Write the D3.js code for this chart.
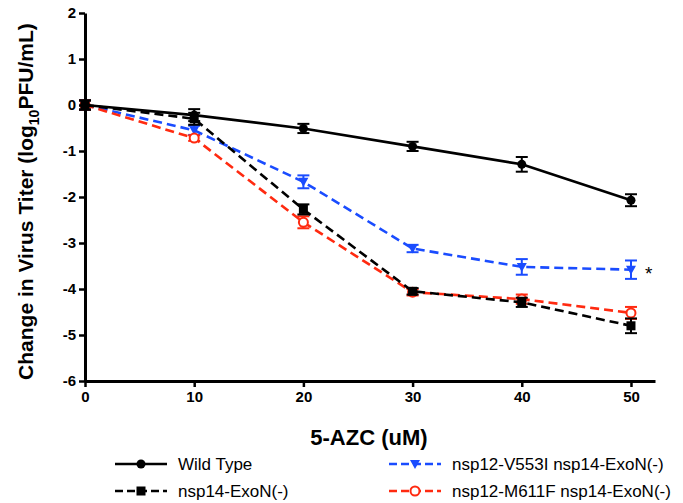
<!DOCTYPE html>
<html><head><meta charset="utf-8">
<script src="https://cdn.jsdelivr.net/npm/d3@7"></script>
<style>body{margin:0;background:#fff}svg{display:block}text{font-family:Arial,"Liberation Sans",sans-serif}</style>
</head><body>
<svg id="c" width="683" height="503"></svg>
<script>
const doses = [0, 10, 20, 30, 40, 50];
const xTicks = [0, 10, 20, 30, 40, 50];
const yTicks = [2, 1, 0, -1, -2, -3, -4, -5, -6];
const seriesNames = ["Wild Type", "nsp14-ExoN(-)", "nsp12-V553I nsp14-ExoN(-)", "nsp12-M611F nsp14-ExoN(-)"];
const wtMean = [0, -0.22, -0.51, -0.9, -1.29, -2.07];
const wtErr = [0.1, 0.13, 0.1, 0.1, 0.16, 0.13];
const exoMean = [0, -0.3, -2.27, -4.05, -4.29, -4.8];
const exoErr = [0.1, 0.13, 0.11, 0.07, 0.1, 0.16];
const v553Mean = [0, -0.55, -1.67, -3.12, -3.52, -3.58];
const v553Err = [0.1, 0.1, 0.14, 0.08, 0.17, 0.2];
const m611Mean = [0, -0.72, -2.55, -4.07, -4.22, -4.52];
const m611Err = [0.1, 0.06, 0.13, 0.07, 0.1, 0.13];

const svg = d3.select("#c");
const x = d3.scaleLinear().domain([0, 52.2]).range([85, 655]);
const y = d3.scaleLinear().domain([-6, 2]).range([381, 13]);

const series = [
  {name: seriesNames[0], mean: wtMean, err: wtErr, color: "#000", dash: null, marker: "circle"},
  {name: seriesNames[1], mean: exoMean, err: exoErr, color: "#000", dash: "9,5", marker: "square"},
  {name: seriesNames[2], mean: v553Mean, err: v553Err, color: "#1a4cff", dash: "9,5", marker: "tri"},
  {name: seriesNames[3], mean: m611Mean, err: m611Err, color: "#ff2a10", dash: "9,5", marker: "open"}
];

function drawMarker(g, type, color, cx, cy) {
  if (type === "circle") g.append("circle").attr("cx", cx).attr("cy", cy).attr("r", 4.5).attr("fill", color);
  else if (type === "square") g.append("rect").attr("x", cx - 4.5).attr("y", cy - 4.5).attr("width", 9).attr("height", 9).attr("fill", color);
  else if (type === "tri") g.append("path").attr("d", `M${cx-5},${cy-4}L${cx+5},${cy-4}L${cx},${cy+5}Z`).attr("fill", color);
  else if (type === "open") g.append("circle").attr("cx", cx).attr("cy", cy).attr("r", 4.5).attr("fill", "#fff").attr("stroke", color).attr("stroke-width", 2);
}

const order = [2, 3, 1, 0];
order.forEach(i => {
  const s = series[i];
  const g = svg.append("g");
  const line = d3.line().x((d, j) => x(doses[j])).y(d => y(d));
  g.append("path").datum(s.mean).attr("d", line).attr("fill", "none")
    .attr("stroke", s.color).attr("stroke-width", 2.6)
    .attr("stroke-dasharray", s.dash);
  s.mean.forEach((m, j) => {
    const cx = x(doses[j]);
    const e = s.err[j];
    const y1 = y(m + e), y2 = y(m - e);
    g.append("line").attr("x1", cx).attr("x2", cx).attr("y1", y1).attr("y2", y2).attr("stroke", s.color).attr("stroke-width", 2);
    g.append("line").attr("x1", cx - 6).attr("x2", cx + 6).attr("y1", y1).attr("y2", y1).attr("stroke", s.color).attr("stroke-width", 2);
    g.append("line").attr("x1", cx - 6).attr("x2", cx + 6).attr("y1", y2).attr("y2", y2).attr("stroke", s.color).attr("stroke-width", 2);
    drawMarker(g, s.marker, s.color, cx, y(m));
  });
});

const fmt = d => String(d);
const xAxis = svg.append("g").attr("transform", `translate(0,${y(-6)})`)
  .call(d3.axisBottom(x).tickValues(xTicks).tickFormat(fmt).tickSize(6).tickSizeOuter(0).tickPadding(4));
const yAxis = svg.append("g").attr("transform", `translate(${x(0)},0)`)
  .call(d3.axisLeft(y).tickValues(yTicks).tickFormat(fmt).tickSize(6).tickSizeOuter(0).tickPadding(3));
[xAxis, yAxis].forEach(a => {
  a.select(".domain").attr("stroke", "#000").attr("stroke-width", 3);
  a.selectAll(".tick line").attr("stroke", "#000").attr("stroke-width", 2.5);
  a.selectAll(".tick text").attr("fill", "#000").attr("font-size", 15).attr("font-weight", "bold")
    .attr("font-family", "Arial, 'Liberation Sans', sans-serif");
});

svg.append("text").attr("x", x(50) + 14).attr("y", y(v553Mean[5]) + 10).attr("font-size", 19).text("*");

svg.append("text").attr("x", x(26)).attr("y", 445).attr("text-anchor", "middle")
  .attr("font-size", 22).attr("font-weight", "bold").text("5-AZC (uM)");
const yt = svg.append("text").attr("transform", `translate(33,${y(-2.1)}) rotate(-90)`)
  .attr("text-anchor", "middle").attr("font-size", 21).attr("font-weight", "bold");
yt.append("tspan").text("Change in Virus Titer (log");
yt.append("tspan").attr("font-size", 14).attr("dy", 6).text("10");
yt.append("tspan").attr("dy", -6).text("PFU/mL)");

const legPos = [[115, 464], [115, 491], [389, 464], [389, 491]];
series.forEach((s, i) => {
  const [lx, ly] = legPos[i];
  const g = svg.append("g");
  g.append("line").attr("x1", lx).attr("x2", lx + 52).attr("y1", ly).attr("y2", ly)
    .attr("stroke", s.color).attr("stroke-width", 2.6).attr("stroke-dasharray", s.dash ? "8,4" : null);
  drawMarker(g, s.marker, s.color, lx + 26, ly);
  g.append("text").attr("x", lx + 63).attr("y", ly + 6).attr("font-size", 17).attr("fill", "#000").text(s.name);
});
</script>
</body></html>
